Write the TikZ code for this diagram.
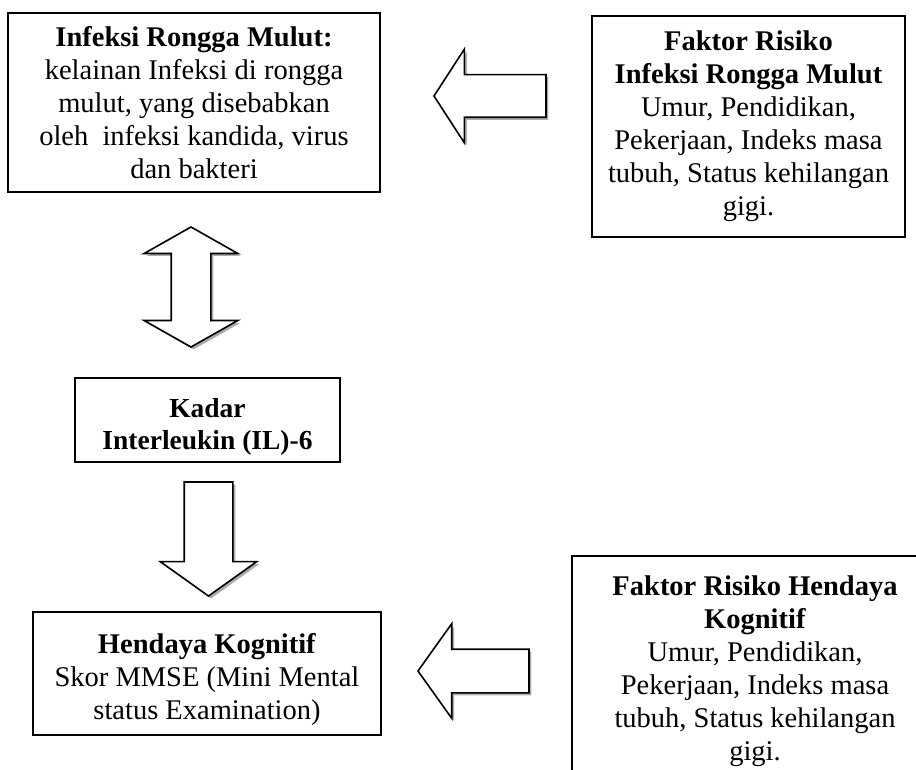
\documentclass[tikz,border=0pt]{standalone}
\usepackage{fontspec}
\setmainfont{Liberation Serif}
\usetikzlibrary{shapes.arrows,shadows}

\tikzset{
  box/.style={draw,line width=1.6pt,align=center,inner sep=0pt,
    font=\fontsize{28.5}{33}\selectfont},
  blockarrow/.style={draw,line width=1.6pt,fill=white,inner xsep=0pt,
    drop shadow={shadow xshift=2.5pt,shadow yshift=-2.5pt,fill=gray!65,opacity=1}},
}

\begin{document}
\begin{tikzpicture}[x=1pt,y=-1pt]
  \clip (0,0) rectangle (916,770);
  % boxes
  \node [box,minimum width=372pt,minimum height=179pt] (infeksi) at (194,102.5)
    {\textbf{Infeksi Rongga Mulut:}\\kelainan Infeksi di rongga\\mulut, yang disebabkan\\oleh\ \ infeksi kandida, virus\\dan bakteri};
  \node [box,minimum width=313pt,minimum height=221pt] (faktorA) at (748.5,126.5)
    {\textbf{Faktor Risiko}\\\textbf{Infeksi Rongga Mulut}\\Umur, Pendidikan,\\Pekerjaan, Indeks masa\\tubuh, Status kehilangan\\gigi.};
  \node [box,minimum width=265pt,minimum height=84pt,font=\fontsize{27.5}{32}\selectfont] (kadar) at (207.5,420)
    {\rule{0pt}{32pt}\textbf{Kadar}\\\textbf{Interleukin (IL)-6}};
  \node [box,minimum width=348pt,minimum height=123pt] (hendaya) at (207,673.5)
    {\rule{0pt}{33pt}\textbf{Hendaya Kognitif}\\Skor MMSE (Mini Mental\\status Examination)};
  \node [box,minimum width=366pt,minimum height=230pt] (faktorB) at (755,671)
    {\textbf{Faktor Risiko Hendaya}\\\textbf{Kognitif}\\Umur, Pendidikan,\\Pekerjaan, Indeks masa\\tubuh, Status kehilangan\\gigi.};
  % block arrows
  \node [blockarrow,single arrow,rotate=180,anchor=tip,minimum height=112pt,minimum width=92pt,
    inner ysep=20.5pt,single arrow head extend=25.5pt,single arrow tip angle=114] (arrowA) at (433,96) {};
  \node [blockarrow,double arrow,rotate=90,minimum height=120pt,minimum width=92pt,
    inner ysep=19pt,double arrow head extend=27pt,double arrow tip angle=121] (arrowAB) at (191,287) {};
  \node [blockarrow,single arrow,rotate=-90,anchor=tip,minimum height=114pt,minimum width=95pt,
    inner ysep=23.5pt,single arrow head extend=24pt,single arrow tip angle=109] (arrowB) at (208.5,597) {};
  \node [blockarrow,single arrow,rotate=180,anchor=tip,minimum height=111pt,minimum width=93pt,
    inner ysep=21pt,single arrow head extend=25.5pt,single arrow tip angle=109] (arrowC) at (417,671) {};
\end{tikzpicture}
\end{document}
